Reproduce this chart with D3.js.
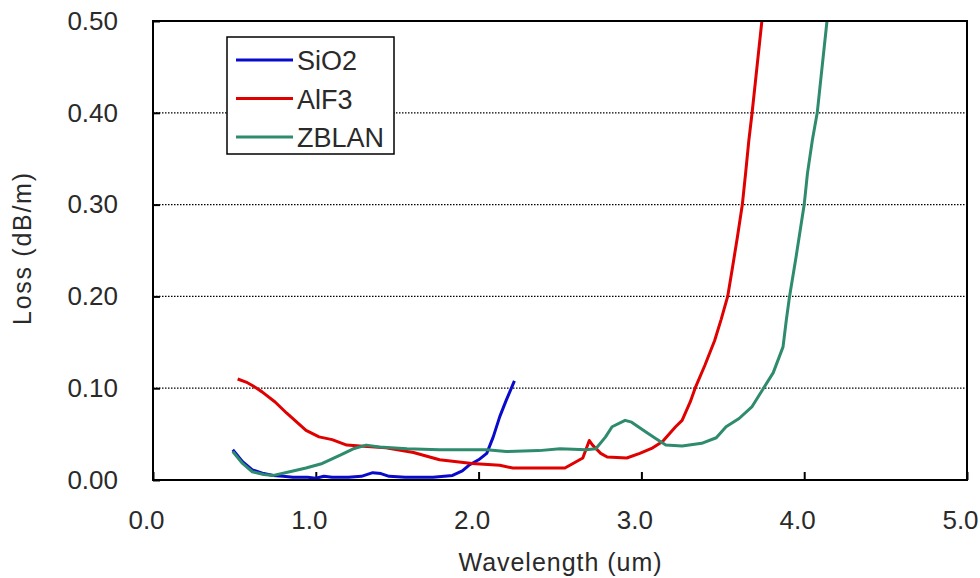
<!DOCTYPE html>
<html>
<head>
<meta charset="utf-8">
<script src="https://cdn.jsdelivr.net/npm/d3@7"></script>
<style>
  html, body { margin: 0; padding: 0; background: #fff; }
  text { font-family: "Liberation Sans", Arial, sans-serif; fill: #2a2a2a; }
</style>
</head>
<body>
<svg id="chart" width="980" height="578"></svg>
<script>
// ---- data ----
const xTicks = [0, 1, 2, 3, 4, 5];
const xTickLabels = ["0.0", "1.0", "2.0", "3.0", "4.0", "5.0"];
const yTicks = [0, 0.1, 0.2, 0.3, 0.4, 0.5];
const yTickLabels = ["0.00", "0.10", "0.20", "0.30", "0.40", "0.50"];
const seriesNames = ["SiO2", "AlF3", "ZBLAN"];

const sio2 = [
  [0.49, 0.033], [0.55, 0.020], [0.61, 0.011], [0.68, 0.007], [0.74, 0.005], [0.80, 0.004],
  [0.86, 0.003], [0.95, 0.003], [1.0, 0.002], [1.05, 0.004], [1.1, 0.003], [1.2, 0.003],
  [1.28, 0.004], [1.35, 0.008], [1.40, 0.007], [1.45, 0.004], [1.55, 0.003], [1.65, 0.003],
  [1.72, 0.003], [1.84, 0.005], [1.90, 0.010], [1.94, 0.016], [2.0, 0.022], [2.05, 0.029],
  [2.09, 0.047], [2.13, 0.069], [2.17, 0.087], [2.22, 0.108]
];
const alf3 = [
  [0.52, 0.110], [0.58, 0.106], [0.61, 0.103], [0.67, 0.096], [0.75, 0.085], [0.82, 0.073],
  [0.94, 0.054], [1.02, 0.047], [1.10, 0.044], [1.19, 0.038], [1.27, 0.037], [1.43, 0.035],
  [1.60, 0.030], [1.76, 0.022], [1.96, 0.018], [2.13, 0.016], [2.21, 0.013], [2.37, 0.013],
  [2.53, 0.013], [2.58, 0.018], [2.64, 0.024], [2.68, 0.043], [2.70, 0.038], [2.75, 0.029],
  [2.79, 0.025], [2.91, 0.024], [2.99, 0.029], [3.07, 0.035], [3.13, 0.042], [3.21, 0.058],
  [3.25, 0.065], [3.30, 0.085], [3.33, 0.100], [3.39, 0.125], [3.45, 0.152], [3.49, 0.175],
  [3.53, 0.200], [3.56, 0.232], [3.59, 0.265], [3.62, 0.300], [3.64, 0.334], [3.66, 0.370],
  [3.68, 0.400], [3.71, 0.450], [3.74, 0.500]
];
const zblan = [
  [0.49, 0.031], [0.55, 0.018], [0.61, 0.009], [0.68, 0.006], [0.74, 0.005], [0.84, 0.009],
  [0.94, 0.013], [1.04, 0.018], [1.15, 0.027], [1.23, 0.034], [1.31, 0.038], [1.39, 0.036],
  [1.56, 0.034], [1.76, 0.033], [2.05, 0.033], [2.17, 0.031], [2.37, 0.032], [2.50, 0.034],
  [2.66, 0.033], [2.72, 0.034], [2.78, 0.047], [2.82, 0.058], [2.90, 0.065], [2.94, 0.063],
  [3.03, 0.052], [3.09, 0.045], [3.15, 0.038], [3.25, 0.037], [3.37, 0.040], [3.46, 0.046],
  [3.52, 0.058], [3.60, 0.067], [3.68, 0.080], [3.75, 0.100], [3.81, 0.117], [3.87, 0.145],
  [3.89, 0.174], [3.91, 0.200], [3.95, 0.243], [4.00, 0.300], [4.02, 0.334], [4.05, 0.370],
  [4.08, 0.400], [4.14, 0.500]
];
const colors = ["#0a0acc", "#e00000", "#2e8b6e"];

// ---- layout ----
const svg = d3.select("#chart");
const pL = 153, pR = 967, pT = 21, pB = 480;
const x = d3.scaleLinear().domain([0, 5]).range([pL, pR]);
const y = d3.scaleLinear().domain([0, 0.5]).range([pB, pT]);

// gridlines
svg.append("g").selectAll("line").data(yTicks.filter(d => d > 0 && d < 0.5)).join("line")
  .attr("x1", pL).attr("x2", pR)
  .attr("y1", d => y(d)).attr("y2", d => y(d))
  .attr("stroke", "#000").attr("stroke-width", 1.2).attr("stroke-dasharray", "1.5,1.5");

// y-axis
const yAxis = d3.axisLeft(y).tickValues(yTicks)
  .tickFormat((d, i) => yTickLabels[i]).tickSizeInner(-7).tickSizeOuter(0).tickPadding(35);
const gy = svg.append("g").attr("transform", `translate(${pL},0)`).call(yAxis);
gy.select(".domain").remove();
gy.selectAll(".tick line").attr("stroke", "#000").attr("stroke-width", 2);
gy.selectAll(".tick text").attr("font-size", 26).attr("fill", "#2a2a2a")
  .style("font-family", "'Liberation Sans', Arial, sans-serif");

// x-axis
const xAxis = d3.axisBottom(x).tickValues(xTicks)
  .tickFormat((d, i) => xTickLabels[i]).tickSizeInner(-8).tickSizeOuter(0).tickPadding(31);
const gx = svg.append("g").attr("transform", `translate(0,${pB})`).call(xAxis);
gx.select(".domain").remove();
gx.selectAll(".tick line").attr("stroke", "#000").attr("stroke-width", 2);
gx.selectAll(".tick text").attr("font-size", 26).attr("fill", "#2a2a2a").attr("dx", -7)
  .style("font-family", "'Liberation Sans', Arial, sans-serif");

// series
const line = d3.line().x(d => x(d[0])).y(d => y(d[1]));
svg.append("clipPath").attr("id", "clip").append("rect")
  .attr("x", pL).attr("y", pT).attr("width", pR - pL).attr("height", pB - pT);
[sio2, alf3, zblan].forEach((s, i) => {
  svg.append("path").datum(s).attr("d", line)
    .attr("fill", "none").attr("stroke", colors[i]).attr("stroke-width", 3)
    .attr("stroke-linejoin", "round").attr("clip-path", "url(#clip)");
});

// frame
svg.append("rect").attr("x", pL).attr("y", pT)
  .attr("width", pR - pL).attr("height", pB - pT)
  .attr("fill", "none").attr("stroke", "#000").attr("stroke-width", 2);

// legend
const lg = svg.append("g");
lg.append("rect").attr("x", 227).attr("y", 37).attr("width", 167).attr("height", 117)
  .attr("fill", "#fff").attr("stroke", "#000").attr("stroke-width", 1.5);
seriesNames.forEach((n, i) => {
  const cy = 60 + i * 38.5;
  lg.append("line").attr("x1", 236).attr("x2", 293).attr("y1", cy).attr("y2", cy)
    .attr("stroke", colors[i]).attr("stroke-width", 3);
  lg.append("text").attr("x", 297).attr("y", cy + 10).attr("font-size", 27).text(n);
});

// axis titles
svg.append("text").attr("x", x(2.5)).attr("y", 571).attr("text-anchor", "middle")
  .attr("font-size", 25).attr("textLength", 203).text("Wavelength (um)");
svg.append("text").attr("transform", `translate(31,249) rotate(-90)`)
  .attr("text-anchor", "middle").attr("font-size", 25).attr("textLength", 152)
  .text("Loss (dB/m)");
</script>
</body>
</html>
